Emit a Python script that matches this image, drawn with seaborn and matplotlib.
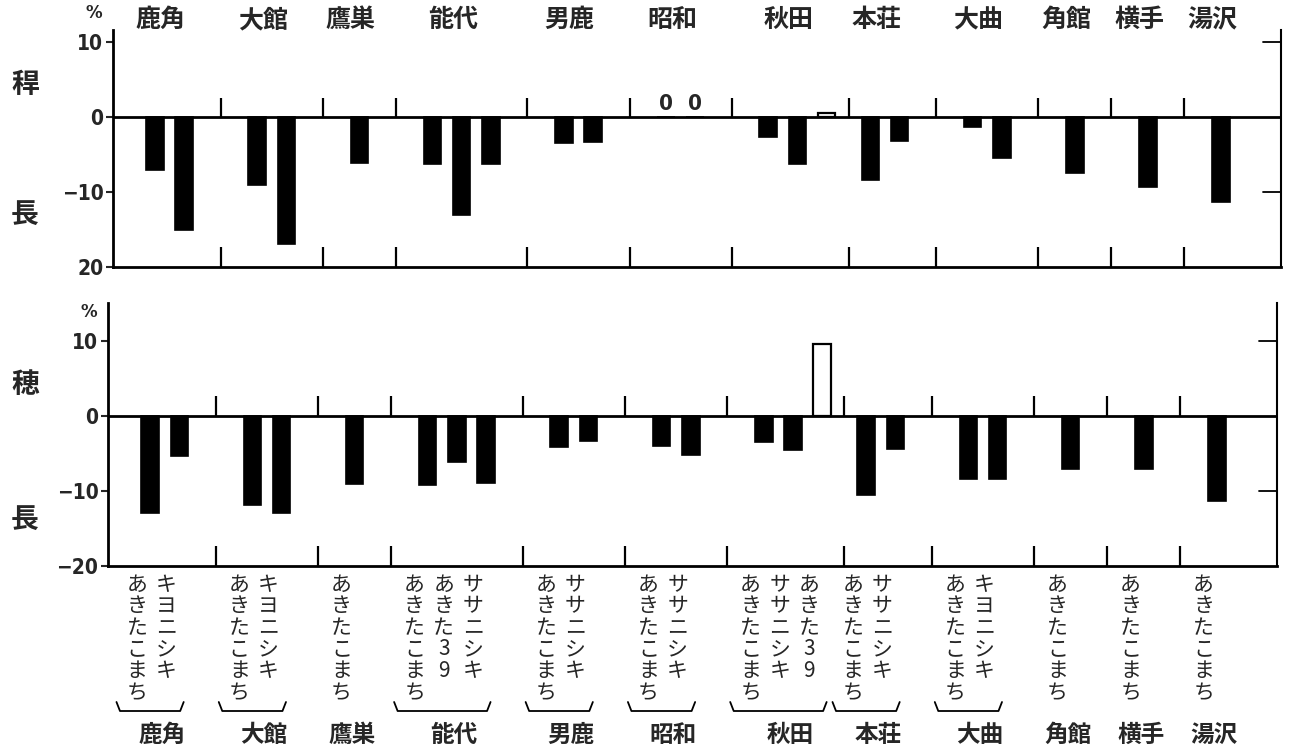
import matplotlib
matplotlib.use("Agg")
import matplotlib.pyplot as plt
import matplotlib.transforms as mtransforms
import seaborn as sns
import pandas as pd
import numpy as np

# ---------------- data ----------------
groups = ['鹿角', '大館', '鷹巣', '能代', '男鹿', '昭和', '秋田', '本荘', '大曲', '角館', '横手', '湯沢']
bar_group = ['鹿角', '鹿角', '大館', '大館', '鷹巣', '能代', '能代', '能代', '男鹿', '男鹿',
             '昭和', '昭和', '秋田', '秋田', '秋田', '本荘', '本荘', '大曲', '大曲', '角館', '横手', '湯沢']
bar_variety = ['あきたこまち', 'キヨニシキ', 'あきたこまち', 'キヨニシキ', 'あきたこまち',
               'あきたこまち', 'あきた39', 'ササニシキ', 'あきたこまち', 'ササニシキ',
               'あきたこまち', 'ササニシキ', 'あきたこまち', 'ササニシキ', 'あきた39',
               'あきたこまち', 'ササニシキ', 'あきたこまち', 'キヨニシキ', 'あきたこまち',
               'あきたこまち', 'あきたこまち']
culm_length = [-7.1, -15.1, -9.1, -16.9, -6.1, -6.3, -13.1, -6.2, -3.4, -3.3,
               0.0, 0.0, -2.6, -6.2, 0.5, -8.4, -3.2, -1.3, -5.5, -7.4, -9.3, -11.3]
panicle_length = [-12.9, -5.3, -11.9, -13.0, -9.1, -9.2, -6.1, -9.0, -4.2, -3.3,
                  -4.0, -5.2, -3.5, -4.6, 9.5, -10.5, -4.4, -8.4, -8.4, -7.1, -7.1, -11.4]
zero_label_group = '昭和'          # values printed as "0" in the culm-length panel
open_bar = ('秋田', 'あきた39')     # drawn as an open (white) bar

# ---------------- layout ----------------
group_gap = {'秋田': 1.5}
default_gap = 2.5
positions = []
p = 0.0
prev = None
for g in bar_group:
    if prev is not None:
        p += 1.0 if g == prev else group_gap.get(prev, default_gap)
    positions.append(p)
    prev = g

df = pd.DataFrame({'group': bar_group, 'variety': bar_variety, 'pos': positions,
                   'culm': culm_length, 'panicle': panicle_length})
centers = df.groupby('group', sort=False)['pos'].agg(['min', 'max', 'mean'])
centers = centers.loc[groups]
separators = [(centers['max'].iloc[i] + centers['min'].iloc[i + 1]) / 2 for i in range(len(groups) - 1)]

sns.set_style('white')
plt.rcParams['font.family'] = ['Noto Sans CJK JP', 'DejaVu Sans']

fig = plt.figure(figsize=(12.94, 7.51), dpi=100)
ax1 = fig.add_axes([113 / 1294, 1 - 267 / 751, 1168 / 1294, 237 / 751])
ax2 = fig.add_axes([108 / 1294, 1 - 566 / 751, 1169 / 1294, 263 / 751])

XLIM = (-1.44, 38.56)
num_font = dict(family=['DejaVu Sans'], fontweight='bold', fontsize=15, fontstretch='condensed')


def panel(ax, col, ylim, ticklabels, tick_len):
    sns.barplot(data=df, x='pos', y=col, native_scale=True, color='black', width=0.6,
                edgecolor='black', linewidth=1.2, errorbar=None, ax=ax, saturation=1)
    for patch, g, v in zip(ax.patches, df['group'], df['variety']):
        if (g, v) == open_bar:
            patch.set_facecolor('white')
            patch.set_linewidth(1.6)
    ax.set_xlim(*XLIM)
    ax.set_ylim(*ylim)
    ax.axhline(0, color='black', lw=2, zorder=0.5)
    ax.vlines(separators, 0, tick_len, color='black', lw=1.6)
    ax.vlines(separators, -20, -20 + tick_len, color='black', lw=1.6)
    ax.set_xticks([])
    ax.set_xlabel('')
    ax.set_ylabel('')
    ax.set_yticks([10, 0, -10, -20])
    ax.set_yticklabels(ticklabels, **num_font)
    ax.tick_params(axis='y', direction='out', length=5, width=1.5, left=True, pad=2)
    for s in ['left', 'bottom', 'right']:
        ax.spines[s].set_visible(True)
        ax.spines[s].set_color('black')
    ax.spines['left'].set_linewidth(2)
    ax.spines['bottom'].set_linewidth(2)
    ax.spines['right'].set_linewidth(1.5)
    ax.spines['top'].set_visible(False)
    tr = ax.get_yaxis_transform()
    for yv in (10, -10):
        ax.plot([0.985, 1.0], [yv, yv], color='black', lw=1.3, transform=tr, clip_on=False)
    ax.text(-0.016, 13.8, '%', transform=tr, ha='center', va='center',
            fontsize=12, fontweight='bold', family=['DejaVu Sans'])


panel(ax1, 'culm', (-20, 11.6), ['10', '0', '−10', '20'], 2.6)
panel(ax2, 'panicle', (-20, 15), ['10', '0', '−10', '−20'], 2.6)

# "0" labels for zero values
for pos, g, v in zip(df['pos'], df['group'], df['culm']):
    if g == zero_label_group and v == 0:
        ax1.text(pos, 0.4, '0', ha='center', va='bottom', fontsize=16, fontweight='bold',
                 family=['DejaVu Sans'], fontstretch='condensed')

# group names on top
tr_top = mtransforms.blended_transform_factory(ax1.transData, fig.transFigure)
for g, row in centers.iterrows():
    ax1.text(row['mean'] - 0.3, 1 - 20 / 751, g, transform=tr_top, ha='center', va='center',
             fontsize=18, fontweight='bold', clip_on=False)

# variety labels (vertical) and group names below
tr_bot = mtransforms.blended_transform_factory(ax2.transData, fig.transFigure)
for pos, v in zip(df['pos'], df['variety']):
    ax2.text(pos - 0.45, 1 - 574 / 751, '\n'.join(v), transform=tr_bot, ha='center', va='top',
             fontsize=15, linespacing=0.97, clip_on=False)
for g, row in centers.iterrows():
    ax2.text(row['mean'] - 0.1, 1 - 735 / 751, g, transform=tr_bot, ha='center', va='center',
             fontsize=17, fontweight='bold', clip_on=False)
    if row['max'] > row['min']:
        x0 = row['min'] - 1.15
        x1 = row['max'] + 0.15
        yt = 1 - 702 / 751
        yb = 1 - 711 / 751
        ax2.plot([x0, x0 + 0.12, x1 - 0.12, x1], [yt, yb, yb, yt], transform=tr_bot,
                 color='black', lw=1.3, clip_on=False)

# side labels
side = dict(fontsize=20, fontweight='bold', ha='center', va='center')
fig.text(25 / 1294, 1 - 85 / 751, '稈', **side)
fig.text(25 / 1294, 1 - 215 / 751, '長', **side)
fig.text(25 / 1294, 1 - 385 / 751, '穂', **side)
fig.text(25 / 1294, 1 - 520 / 751, '長', **side)

fig.savefig('out.png', dpi=100)
